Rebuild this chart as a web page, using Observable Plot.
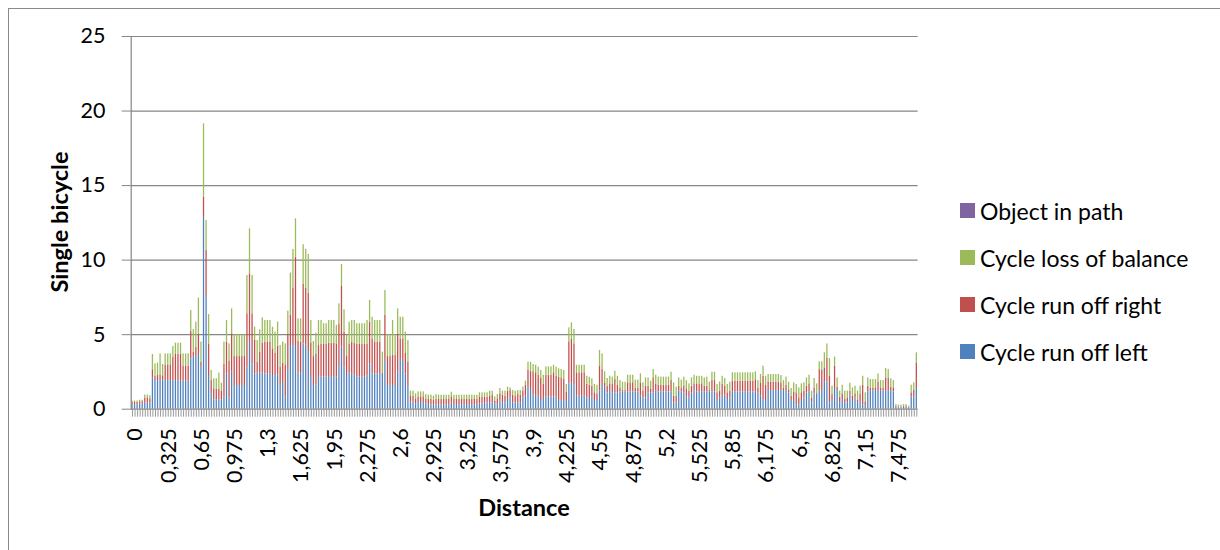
<!DOCTYPE html>
<html><head><meta charset="utf-8">
<script src="https://cdn.jsdelivr.net/npm/d3@7"></script>
<script src="https://cdn.jsdelivr.net/npm/@observablehq/plot@0.6"></script>
<style>
html,body{margin:0;padding:0;background:#fff;}
#wrap{position:relative;width:1220px;height:550px;overflow:hidden;font-family:Lato,sans-serif;}
#frame{position:absolute;left:8px;top:8px;width:1300px;height:600px;border-left:1px solid #898989;border-top:1px solid #898989;}
#chart{position:absolute;left:0;top:0;}
#legend{position:absolute;left:960px;top:187px;}
.item{display:flex;align-items:center;height:47px;font-size:23px;color:#000;white-space:nowrap;}
.sw{width:15px;height:15px;margin-right:5px;flex:none;}
</style></head><body>
<div id="wrap"><div id="frame"></div><div id="chart"></div><div id="legend"></div></div>
<script>
// Distance categories (km)
const distances = [
0,0.025,0.05,0.075,0.1,0.125,0.15,0.175,0.2,0.225,
0.25,0.275,0.3,0.325,0.35,0.375,0.4,0.425,0.45,0.475,
0.5,0.525,0.55,0.575,0.6,0.625,0.65,0.675,0.7,0.725,
0.75,0.775,0.8,0.825,0.85,0.875,0.9,0.925,0.95,0.975,
1,1.025,1.05,1.075,1.1,1.125,1.15,1.175,1.2,1.225,
1.25,1.275,1.3,1.325,1.35,1.375,1.4,1.425,1.45,1.475,
1.5,1.525,1.55,1.575,1.6,1.625,1.65,1.675,1.7,1.725,
1.75,1.775,1.8,1.825,1.85,1.875,1.9,1.925,1.95,1.975,
2,2.025,2.05,2.075,2.1,2.125,2.15,2.175,2.2,2.225,
2.25,2.275,2.3,2.325,2.35,2.375,2.4,2.425,2.45,2.475,
2.5,2.525,2.55,2.575,2.6,2.625,2.65,2.675,2.7,2.725,
2.75,2.775,2.8,2.825,2.85,2.875,2.9,2.925,2.95,2.975,
3,3.025,3.05,3.075,3.1,3.125,3.15,3.175,3.2,3.225,
3.25,3.275,3.3,3.325,3.35,3.375,3.4,3.425,3.45,3.475,
3.5,3.525,3.55,3.575,3.6,3.625,3.65,3.675,3.7,3.725,
3.75,3.775,3.8,3.825,3.85,3.875,3.9,3.925,3.95,3.975,
4,4.025,4.05,4.075,4.1,4.125,4.15,4.175,4.2,4.225,
4.25,4.275,4.3,4.325,4.35,4.375,4.4,4.425,4.45,4.475,
4.5,4.525,4.55,4.575,4.6,4.625,4.65,4.675,4.7,4.725,
4.75,4.775,4.8,4.825,4.85,4.875,4.9,4.925,4.95,4.975,
5,5.025,5.05,5.075,5.1,5.125,5.15,5.175,5.2,5.225,
5.25,5.275,5.3,5.325,5.35,5.375,5.4,5.425,5.45,5.475,
5.5,5.525,5.55,5.575,5.6,5.625,5.65,5.675,5.7,5.725,
5.75,5.775,5.8,5.825,5.85,5.875,5.9,5.925,5.95,5.975,
6,6.025,6.05,6.075,6.1,6.125,6.15,6.175,6.2,6.225,
6.25,6.275,6.3,6.325,6.35,6.375,6.4,6.425,6.45,6.475,
6.5,6.525,6.55,6.575,6.6,6.625,6.65,6.675,6.7,6.725,
6.75,6.775,6.8,6.825,6.85,6.875,6.9,6.925,6.95,6.975,
7,7.025,7.05,7.075,7.1,7.125,7.15,7.175,7.2,7.225,
7.25,7.275,7.3,7.325,7.35,7.375,7.4,7.425,7.45,7.475,
7.5,7.525,7.55,7.575,7.6,7.625,7.65,7.675];

const tickValues = [0,0.325,0.65,0.975,1.3,1.625,1.95,2.275,2.6,2.925,3.25,3.575,3.9,4.225,4.55,4.875,5.2,5.525,5.85,6.175,6.5,6.825,7.15,7.475];
const tickLabels = ["0","0,325","0,65","0,975","1,3","1,625","1,95","2,275","2,6","2,925","3,25","3,575","3,9","4,225","4,55","4,875","5,2","5,525","5,85","6,175","6,5","6,825","7,15","7,475"];
const yTicks = [0,5,10,15,20,25];

const runOffLeft = [
0.3,0.3,0.3,0.35,0.35,0.4,0.4,0.4,
2.1,1.92,1.92,1.92,1.97,1.92,1.92,1.92,
1.88,1.92,1.92,1.92,1.88,1.88,1.88,3.38,
3.49,3.6,3.67,2.86,12.85,7.56,2.26,1.03,
0.63,0.63,0.63,0.6,0.81,2.37,0.75,2.48,
1.59,1.59,1.59,1.59,1.59,2.82,4.54,3.04,
2.37,2.42,2.42,2.42,2.37,2.37,2.37,2.26,
2.26,2.3,1.59,1.86,0.81,2.64,4.27,4.27,
4.27,2.42,2.37,4.38,4.32,3.87,2.26,1.59,
1.63,2.19,2.15,2.15,2.15,2.19,2.19,2.19,
2.15,2.93,4.16,2.77,2.26,2.42,2.37,2.3,
2.15,2.15,2.15,2.15,2.21,3.04,2.37,2.37,
2.37,2.37,2.33,3.27,1.59,1.59,1.59,1.59,
2.48,3.27,3.27,2.37,1.59,0.47,0.47,0.36,
0.45,0.45,0.45,0.36,0.31,0.27,0.27,0.27,
0.27,0.27,0.27,0.27,0.27,0.43,0.31,0.31,
0.31,0.31,0.31,0.31,0.31,0.31,0.27,0.27,
0.36,0.36,0.4,0.4,0.43,0.43,0.36,0.27,
0.54,0.43,0.43,0.65,0.76,0.43,0.43,0.43,
0.43,0.76,0.87,1.48,1.32,0.94,0.87,0.87,
0.58,0.72,0.81,0.81,0.81,0.81,0.81,0.58,
0.58,0.58,0.58,1.7,1.77,1.61,0.87,0.87,
0.87,0.87,0.76,0.72,0.81,0.58,0.58,1.21,
1.66,1.48,1.1,1.21,1.1,1.1,1.1,1.16,
1.16,1.16,1.16,1.16,1.16,1.16,1.16,0.87,
0.76,0.76,1.1,1.1,1.1,1.21,1.16,1.16,
1.16,1.16,1.16,1.16,0.43,0.43,1.21,1.16,
1.1,0.81,0.76,1.1,1.21,1.16,1.16,1.16,
1.16,1.16,1.16,1.16,1.16,0.58,0.76,0.87,
0.94,0.65,0.76,1.16,1.16,1.16,1.16,1.16,
1.16,1.16,1.16,1.16,1.16,1.1,0.87,0.65,
0.58,1.25,1.25,1.25,1.25,1.25,1.25,1.25,
1.25,1.1,0.58,0.58,0.31,0.27,0.58,0.76,
1.1,1.16,0.43,1.03,1.03,1.21,1.25,1.83,
1.83,0.43,0.58,1.39,1.25,0.43,0.65,0.43,
0.43,0.94,0.58,0.76,0.43,0.49,0.27,0.2,
1.16,1.21,1.25,1.25,1.25,1.21,1.21,1.25,
1.25,1.25,1.16,0.13,0.09,0.09,0.13,0.13,
0.09,0.81,0.81,1.39];

const runOffRight = [
0.15,0.15,0.15,0.15,0.15,0.35,0.35,0.3,
0.55,0.27,0.34,0.38,0.27,1.01,1.01,1.01,
1.61,1.75,1.75,1.75,1.01,1.01,1.01,1.83,
0.34,0.56,1.34,0.29,1.39,3.09,2.12,0.89,
0.73,0.73,0.73,0.6,2.19,2.13,2.45,2.58,
1.94,1.94,1.94,1.94,1.94,3.58,4.54,3.36,
2.24,0.73,1.41,2.01,2.13,2.13,2.13,1.79,
1.5,1.93,1.23,1.23,2.12,2.37,2.02,3.87,
5.93,2.14,2.13,3.99,3.82,3.92,2.19,1.94,
2.04,2.08,2.19,2.19,2.19,2.24,2.24,2.24,
2.23,2.75,4.07,2.4,1.27,1.96,2.13,2.13,
2.19,2.19,2.19,2.19,2.17,2.8,2.35,2.13,
2.13,2.13,0.1,3.02,1.94,1.94,2.01,2.01,
2.53,1.45,1.45,1.39,1.56,0.38,0.38,0.33,
0.38,0.38,0.38,0.33,0.34,0.38,0.31,0.38,
0.38,0.38,0.38,0.38,0.38,0.4,0.34,0.34,
0.34,0.34,0.34,0.34,0.34,0.34,0.38,0.38,
0.47,0.45,0.41,0.41,0.44,0.49,0.18,0.38,
0.49,0.51,0.44,0.56,0.49,0.51,0.44,0.55,
0.51,0.45,0.74,1.14,1.23,1.57,1.57,1.41,
1.48,0.94,1.47,1.47,1.47,1.63,1.4,1.57,
1.52,1.41,0.58,2.82,2.91,2.77,1.57,1.57,
1.57,1.57,0.9,0.89,0.73,0.52,0.45,1.68,
1.0,0.29,0.44,0.49,0.56,0.89,0.51,0.27,
0.09,0.09,0.61,0.61,0.61,0.23,0.23,0.9,
0.45,0.78,0.44,0.22,1.0,0.45,0.45,0.45,
0.45,0.45,0.45,0.76,0.44,0.44,0.33,0.23,
0.44,0.51,0.45,0.44,0.49,0.54,0.54,0.54,
0.38,0.38,0.09,0.76,0.76,0.52,0.45,0.79,
0.6,0.45,0.45,0.72,0.72,0.72,0.72,0.72,
0.72,0.72,0.72,0.72,0.81,0.29,0.9,1.56,
1.03,0.58,0.56,0.56,0.56,0.56,0.52,0.14,
0.36,0.15,0.29,0.58,0.79,0.49,0.52,0.45,
0.44,0.54,0.29,0.4,0.07,1.45,1.35,0.94,
1.57,1.78,0.4,1.5,0.23,0.38,0.38,0.22,
0.33,0.27,0.29,0.27,0.15,0.49,1.34,0.29,
0.38,0.18,0.18,0.18,0.58,0.18,0.18,0.85,
0.81,0.23,0.23,0.07,0.06,0.06,0.07,0.07,
0.04,0.29,0.44,1.72];

const lossOfBalance = [
0.1,0.1,0.1,0.1,0.1,0.2,0.2,0.2,
1.02,0.85,0.83,1.41,0.76,0.78,0.78,0.78,
0.72,0.76,0.76,0.76,0.82,0.82,0.82,1.41,
1.52,1.68,2.44,1.35,4.9,2.01,1.97,0.68,
0.68,0.68,1.06,0.55,1.5,1.45,1.18,1.67,
1.48,1.48,1.48,1.48,1.48,2.57,3.02,2.57,
0.89,1.46,1.49,1.7,1.45,1.45,1.45,1.45,
1.41,1.61,1.45,1.41,1.45,1.57,2.84,2.58,
2.57,1.5,1.56,2.66,2.58,2.59,1.5,1.01,
1.43,1.68,1.61,1.39,1.39,1.52,1.52,1.52,
1.24,1.39,1.48,1.5,1.41,1.46,1.45,1.52,
1.39,1.39,1.39,1.39,1.57,1.45,1.45,1.45,
1.45,1.45,1.4,1.67,1.48,1.48,2.35,1.41,
1.72,1.45,1.45,1.41,1.46,0.36,0.36,0.34,
0.33,0.33,0.33,0.29,0.29,0.29,0.29,0.33,
0.29,0.29,0.29,0.29,0.29,0.31,0.29,0.29,
0.29,0.29,0.29,0.29,0.29,0.29,0.29,0.29,
0.27,0.29,0.29,0.29,0.34,0.29,0.29,0.33,
0.36,0.27,0.34,0.27,0.18,0.31,0.34,0.27,
0.31,0.27,0.27,0.53,0.6,0.49,0.51,0.54,
0.54,0.62,0.56,0.56,0.56,0.51,0.61,0.56,
0.56,0.61,0.5,0.94,1.11,0.97,0.51,0.51,
0.51,0.51,0.55,0.54,0.5,0.56,0.58,1.05,
1.05,0.74,0.52,0.51,0.49,0.56,0.6,0.49,
0.56,0.56,0.51,0.51,0.51,0.56,0.56,0.6,
0.56,0.56,0.56,0.56,0.56,0.62,0.54,0.54,
0.54,0.54,0.54,0.56,0.9,0.61,0.56,0.56,
0.61,0.6,0.49,0.56,0.58,0.51,0.51,0.51,
0.56,0.61,0.56,0.56,0.56,0.56,0.62,0.55,
0.52,0.56,0.6,0.56,0.56,0.56,0.56,0.56,
0.56,0.56,0.56,0.56,0.54,0.53,0.56,0.68,
0.6,0.5,0.52,0.52,0.52,0.52,0.49,0.53,
0.54,0.56,0.52,0.61,0.56,0.67,0.6,0.56,
0.56,0.58,0.49,0.63,0.6,0.52,0.58,1.01,
0.98,1.19,0.56,0.6,0.62,0.4,0.58,0.56,
0.45,0.53,0.56,0.51,0.63,0.56,0.6,0.61,
0.56,0.6,0.56,0.56,0.54,0.53,0.53,0.63,
0.6,0.56,0.53,0.11,0.12,0.12,0.11,0.11,
0.07,0.51,0.52,0.67];

const objectInPath = distances.map(() => 0);

const seriesNames = ["Cycle run off left","Cycle run off right","Cycle loss of balance","Object in path"];
const seriesColors = ["#4F81BD","#C0504D","#9BBB59","#8064A2"];
const seriesValues = [runOffLeft, runOffRight, lossOfBalance, objectInPath];

const rows = [];
seriesValues.forEach((vals, s) => vals.forEach((v, i) => rows.push({d: distances[i], v, s: seriesNames[s]})));
const labelOf = new Map(tickValues.map((t, i) => [t, tickLabels[i]]));

const W = 1220, H = 550;
const chart = Plot.plot({
  width: W, height: H,
  marginLeft: 130.7, marginRight: 302.4, marginTop: 36, marginBottom: 141.3,
  style: {fontFamily: "Lato, sans-serif", background: "transparent", color: "#000", overflow: "visible"},
  x: {type: "band", domain: distances, paddingInner: 0.5, paddingOuter: 0.25, round: false, axis: null},
  y: {domain: [0, 25], axis: null},
  color: {domain: seriesNames, range: seriesColors},
  marks: [
    Plot.gridY([5, 10, 15, 20, 25], {stroke: "#868686", strokeOpacity: 1, strokeWidth: 1.2}),
    Plot.barY(rows, {x: "d", y: "v", fill: "s"}),
    Plot.ruleY([0], {stroke: "#868686", strokeWidth: 1.2}),
    Plot.frame({anchor: "left", stroke: "#868686", strokeWidth: 1.2}),
    Plot.axisY({ticks: yTicks, tickSize: 9, tickPadding: 16.7, fontSize: 21.5, stroke: "#868686", fill: "#000", label: null}),
    Plot.axisX({ticks: distances, tickSize: 8, tickFormat: () => "", stroke: "#999", strokeWidth: 1, label: null}),
    Plot.axisX({ticks: tickValues, tickSize: 0, tickPadding: 19, tickRotate: -90, fontSize: 21.5, dx: 3, fill: "#000", tickFormat: d => labelOf.get(d), label: null})
  ]
});
document.getElementById("chart").appendChild(chart);

const svg = d3.select(chart);
svg.append("text").attr("x", 524).attr("y", 516).attr("text-anchor", "middle")
  .attr("font-weight", "bold").attr("font-size", 23.5).attr("font-family", "Lato, sans-serif").text("Distance");
svg.append("text").attr("transform", "translate(68,222) rotate(-90)").attr("text-anchor", "middle")
  .attr("font-weight", "bold").attr("font-size", 23.5).attr("font-family", "Lato, sans-serif").text("Single bicycle");

const legend = d3.select("#legend");
[3, 2, 1, 0].forEach(s => {
  const it = legend.append("div").attr("class", "item");
  it.append("div").attr("class", "sw").style("background", seriesColors[s]);
  it.append("span").text(seriesNames[s]);
});
</script>
</body></html>
